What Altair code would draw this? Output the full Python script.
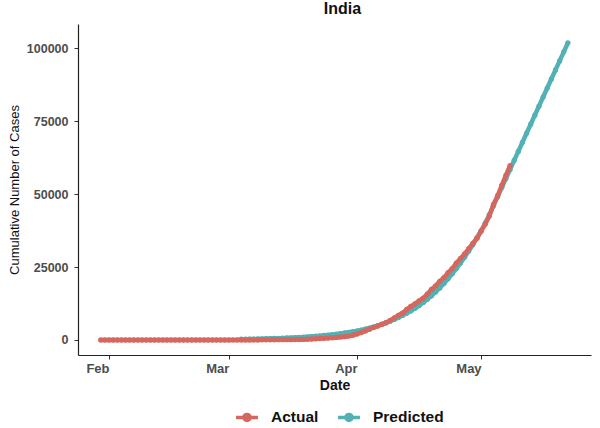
import altair as alt
import pandas as pd

# ---- data ----
actual_start = "2020-01-30"
actual_values = [
    1, 1,                                   # Jan 30-31
    1, 2, 3, 3, 3, 3, 3, 3, 3, 3, 3, 3, 3, 3, 3, 3, 3, 3, 3, 3, 3, 3, 3, 3, 3, 3, 3, 3, 3,  # Feb
    3, 5, 6, 28, 30, 31, 34, 39, 48, 63, 71, 81, 91, 102, 112, 126, 146, 171, 198, 256,
    334, 403, 497, 571, 657, 730, 883, 1019, 1139, 1326, 1635,  # Mar
    2059, 2545, 3105, 3684, 4293, 4777, 5350, 5915, 6728, 7599, 8453, 9211, 10454, 11487,
    12371, 13432, 14354, 15725, 17305, 18544, 20081, 21373, 23040, 24448, 26283, 27890,
    29451, 31324, 33062, 34863,  # Apr
    37257, 39699, 42505, 46437, 49400, 52987, 56351, 59695,  # May 1-8
]

pred_start = "2020-03-04"
pred_values = [
    250, 275, 300, 330, 360, 395, 430, 470, 515, 565, 620, 680, 745, 815, 890, 975,
    1070, 1170, 1280, 1400, 1535, 1680, 1840, 2010, 2200, 2410, 2640, 2860,  # Mar 4-31
    3100, 3400, 3750, 4100, 4500, 4950, 5400, 5900, 6450, 7050, 7700, 8400, 9150, 9950,
    10850, 11800, 12850, 13950, 15150, 16450, 17850, 19350, 20950, 22650, 24450, 26350,
    28350, 30450, 32650, 34950,  # Apr
    37400, 40000, 42900, 46000, 49100, 52200, 55300, 58400, 61500, 64600, 67700, 70800,
    73900, 77000, 80100, 83200, 86300, 89400, 92500, 95600, 98700, 101800,  # May 1-22
]

series_names = ["Actual", "Predicted"]
series_colors = ["#D6675F", "#52B1B4"]
y_ticks = [0, 25000, 50000, 75000, 100000]
y_domain = [-5140, 108230]
month_ticks = [(2020, 2, 1), (2020, 3, 1), (2020, 4, 1), (2020, 5, 1)]
x_domain = [(2020, 1, 24, 12), (2020, 5, 27, 14)]

# ---- tables ----
actual_df = pd.DataFrame({
    "date": pd.date_range(actual_start, periods=len(actual_values), freq="D").strftime("%Y-%m-%d"),
    "cases": actual_values,
    "series": "Actual",
})
pred_df = pd.DataFrame({
    "date": pd.date_range(pred_start, periods=len(pred_values), freq="D").strftime("%Y-%m-%d"),
    "cases": pred_values,
    "series": "Predicted",
})

def dt(t):
    return alt.DateTime(year=t[0], month=t[1], date=t[2], hours=(t[3] if len(t) > 3 else 0), utc=True)

x_enc = alt.X(
    "date:T",
    scale=alt.Scale(type="utc", domain=[dt(t) for t in x_domain]),
    axis=alt.Axis(
        values=[dt(t) for t in month_ticks], labelExpr="utcFormat(datum.value, '%b')",
        title="Date", labelAlign="right", labelBaseline="top", labelPadding=3,
        labelFontSize=13, titleFontSize=14, titlePadding=3,
    ),
)
y_enc = alt.Y(
    "cases:Q",
    scale=alt.Scale(domain=y_domain, nice=False, zero=False),
    axis=alt.Axis(values=y_ticks, format="d", title="Cumulative Number of Cases",
                  labelFontSize=12.5, labelPadding=6,
                  titleFontWeight="normal", titleFontSize=13, titlePadding=5),
)
color_enc = alt.Color(
    "series:N",
    scale=alt.Scale(domain=series_names, range=series_colors),
    legend=alt.Legend(
        title=None, orient="none", direction="horizontal", legendX=156, legendY=380,
        symbolType="M-1,0H1M-0.28,0a0.28,0.28 0 1,0 0.56,0a0.28,0.28 0 1,0 -0.56,0",
        symbolSize=480, symbolStrokeWidth=3.5, labelFontSize=15.5, labelFontWeight="bold",
        labelColor="#111111", labelFont="Liberation Sans", labelOffset=11, columnPadding=12,
    ),
)

def series_layer(df):
    base = alt.Chart(df).encode(x=x_enc, y=y_enc, color=color_enc)
    return base.mark_line(strokeWidth=4.5) + base.mark_point(filled=True, size=28, opacity=1)

chart = alt.layer(series_layer(pred_df), series_layer(actual_df)).properties(
    width=513, height=331,
    background="white",
    title=alt.TitleParams("India", fontSize=16, fontWeight="bold", font="Liberation Sans",
                          color="#111111", anchor="middle", dx=8, offset=7),
    autosize=alt.AutoSizeParams(type="none"),
    padding={"left": 78, "top": 24, "right": 9, "bottom": 73},
).configure_view(stroke=None).configure_axis(
    grid=False, domainColor="#222222", domainWidth=1.2, tickColor="#333333", tickSize=4,
    labelFont="Liberation Sans", labelFontWeight="bold",
    labelColor="#4D4D4D", titleFont="Liberation Sans",
    titleFontWeight="bold", titleColor="#111111",
)

chart.save("out.html", embed_options={"renderer": "svg", "actions": False})
